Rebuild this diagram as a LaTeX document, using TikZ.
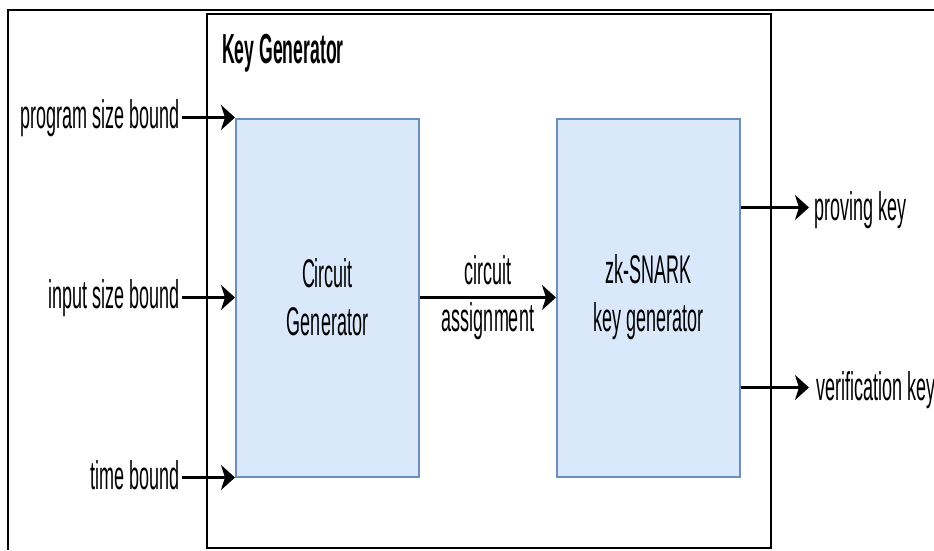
\documentclass[tikz,border=0pt]{standalone}
\usepackage{fontspec}
\setmainfont{Liberation Sans}[FakeStretch=0.45]
\newfontfamily\titlefont{Liberation Sans}[FakeStretch=0.42]
\usetikzlibrary{arrows.meta,calc}
\definecolor{boxfill}{HTML}{DAE8FC}
\definecolor{boxline}{HTML}{6C8EBF}
\begin{document}
\begin{tikzpicture}[x=1pt,y=-1pt,
  lbl/.style={font=\fontsize{40}{47}\selectfont, inner xsep=2pt, inner ysep=0pt},
  block/.style={draw=boxline, fill=boxfill, line width=2pt, minimum width=183pt,
    minimum height=358pt, inner sep=0pt, align=center, font=\fontsize{40}{48}\selectfont},
  flow/.style={line width=2.5pt, -{Stealth[length=14pt,width=25pt,inset=4pt]}}]
\useasboundingbox (0,0) rectangle (934,550);
% outer frame
\draw[line width=2.5pt] (8,550) -- (8,10) -- (934,10);
% key generator container
\node[draw, line width=2pt, minimum width=564pt, minimum height=534pt,
  anchor=north west, inner sep=0pt] (kg) at (206,13) {};
\node[anchor=base west, inner sep=0pt, font=\titlefont\bfseries\fontsize{42}{42}\selectfont]
  (title) at ([xshift=16pt,yshift=-50pt]kg.north west) {Key Generator};
% inner blocks
\node[block] (cg) at (327.5,297.5) {Circuit\\Generator};
\node[block] (zk) at (648.5,297.5) {zk-SNARK\\key generator};
% inputs: text baseline sits 11pt below its arrow
\node[lbl, anchor=base east] (psb) at ([xshift=-53pt,yshift=-11pt]cg.north west) {program size bound};
\node[lbl, anchor=base east] (isb) at ([xshift=-53pt,yshift=-11pt]cg.west) {input size bound};
\node[lbl, anchor=base east] (tb) at ([xshift=-53pt,yshift=-12pt]cg.south west) {time bound};
\draw[flow] (psb.east |- cg.north west) -- (cg.north west);
\draw[flow] (isb.east |- cg.west) -- (cg.west);
\draw[flow] (tb.east |- cg.south west) -- (cg.south west);
% circuit assignment
\draw[flow] (cg.east) -- (zk.west)
  node[midway, lbl, align=center] (ca) {circuit\\assignment};
% outputs
\coordinate (pk0) at ($(zk.north east)!0.25!(zk.south east)$);
\coordinate (vk0) at ($(zk.north east)!0.75!(zk.south east)$);
\node[lbl, anchor=base west] (pk) at ([xshift=71pt,yshift=-13pt]pk0) {proving key};
\node[lbl, anchor=base west] (vk) at ([xshift=73pt,yshift=-13pt]vk0) {verification key};
\draw[flow, shorten >=3pt] (pk0) -- (pk0 -| pk.west);
\draw[flow, shorten >=5pt] (vk0) -- (vk0 -| vk.west);
\end{tikzpicture}
\end{document}
